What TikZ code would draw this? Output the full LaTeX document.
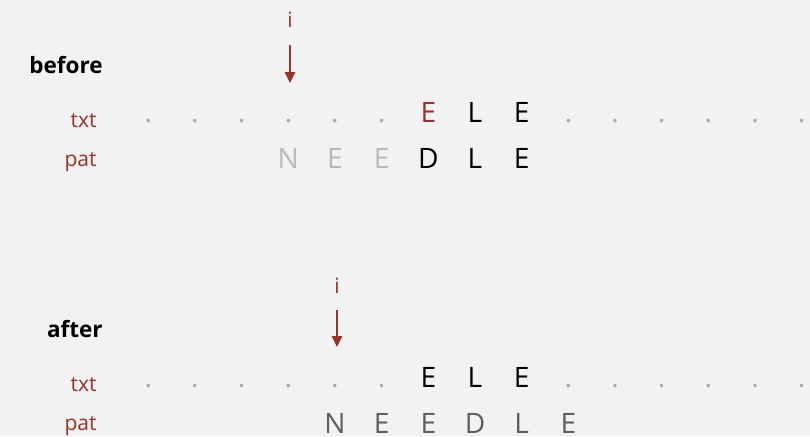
\documentclass[tikz,border=0pt]{standalone}
\usepackage{fontspec}
\setmainfont{Open Sans}
\usetikzlibrary{arrows.meta}
\definecolor{bg}{RGB}{242,242,242}
\definecolor{redbrown}{RGB}{150,52,42}
\definecolor{lightgr}{RGB}{185,185,185}
\definecolor{dotgr}{RGB}{170,170,170}
\definecolor{midgr}{RGB}{95,95,95}

\begin{document}
\begin{tikzpicture}[x=0.02cm, y=-0.02cm,
    chr/.style={anchor=base, inner sep=0pt, font=\fontsize{16}{18}\selectfont},
    dotc/.style={chr, text=dotgr},
    rowlbl/.style={anchor=base east, inner sep=0pt, text=redbrown, font=\fontsize{12}{14}\selectfont},
    steplbl/.style={anchor=base east, inner sep=0pt, font=\fontsize{12.8}{15}\selectfont\bfseries},
    ilbl/.style={anchor=base, inner sep=0pt, text=redbrown, font=\fontsize{12}{14}\selectfont},
    ptr/.style={draw=redbrown, line width=1.4pt, -{Triangle[width=0.2cm,length=0.22cm]}}]
  \fill[bg] (0,0) rectangle (810,436);
  \useasboundingbox (0,0) rectangle (810,436);

  % before
  \node[steplbl] (before) at (103,73) {before};
  \node[rowlbl] (txt1) at (97,127) {txt};
  \node[rowlbl] (pat1) at (97,166) {pat};
  \node[ilbl] (i1) at (290,28) {i};
  \coordinate (i1top) at (290,45);
  \coordinate (i1tip) at (290,83);
  \draw[ptr] (i1top) -- (i1tip);
  \foreach \k in {0,...,5,9,10,...,14}
    \node[dotc] (t1-\k) at (148.3+46.67*\k,122) {.};
  \node[chr, text=redbrown] (t1-6) at (148.3+46.67*6,122) {E};
  \node[chr] (t1-7) at (148.3+46.67*7,122) {L};
  \node[chr] (t1-8) at (148.3+46.67*8,122) {E};
  \foreach \k/\c/\col in {3/N/lightgr,4/E/lightgr,5/E/lightgr,6/D/black,7/L/black,8/E/black}
    \node[chr, text=\col] (p1-\k) at (148.3+46.67*\k,168) {\c};

  % after
  \node[steplbl] (after) at (103,337) {after};
  \node[rowlbl] (txt2) at (97,391) {txt};
  \node[rowlbl] (pat2) at (97,430) {pat};
  \node[ilbl] (i2) at (337,293) {i};
  \coordinate (i2top) at (337,310);
  \coordinate (i2tip) at (337,347);
  \draw[ptr] (i2top) -- (i2tip);
  \foreach \k in {0,...,5,9,10,...,14}
    \node[dotc] (t2-\k) at (148.3+46.67*\k,387) {.};
  \foreach \k/\c in {6/E,7/L,8/E}
    \node[chr] (t2-\k) at (148.3+46.67*\k,387) {\c};
  \foreach \k/\c in {4/N,5/E,6/E,7/D,8/L,9/E}
    \node[chr, text=midgr] (p2-\k) at (148.3+46.67*\k,433) {\c};
\end{tikzpicture}
\end{document}
